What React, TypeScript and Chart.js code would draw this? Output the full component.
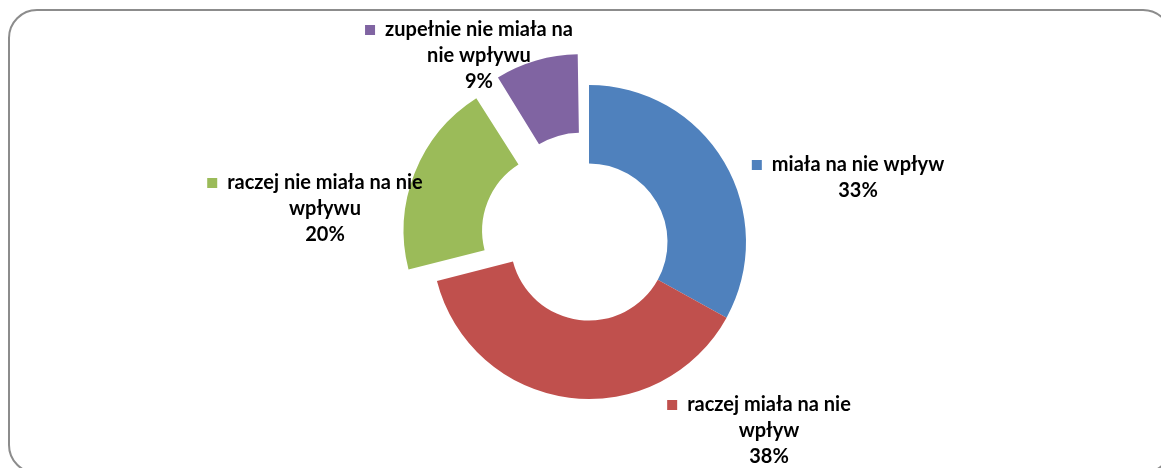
import React, { useEffect, useRef } from 'react';
import { Chart, DoughnutController, ArcElement } from 'chart.js';

Chart.register(DoughnutController, ArcElement);

const categories = [
  'miała na nie wpływ',
  'raczej miała na nie wpływ',
  'raczej nie miała na nie wpływu',
  'zupełnie nie miała na nie wpływu',
];
const values = [33, 38, 20, 9];
const labelLines = [
  ['miała na nie wpływ'],
  ['raczej miała na nie', 'wpływ'],
  ['raczej nie miała na nie', 'wpływu'],
  ['zupełnie nie miała na', 'nie wpływu'],
];
const colors = ['#4F81BD', '#C0504D', '#9BBB59', '#8064A2'];
const explode = [0, 0, 122, 128];
// label anchor offsets relative to the doughnut centre (layout only)
const labelOffsets = [
  [269, -77],
  [180, 163],
  [-264, -59],
  [-110, -212],
];

const FONT = 'bold 20px Lato, "Open Sans", sans-serif';
const LINE_H = 26;

const framePlugin = {
  id: 'frame',
  beforeDraw(chart: any) {
    const ctx = chart.ctx;
    ctx.save();
    ctx.strokeStyle = '#8c8c8c';
    ctx.lineWidth = 2;
    ctx.beginPath();
    ctx.roundRect(9, 10, 1162, 463, 28);
    ctx.stroke();
    ctx.restore();
  },
};

const radiusFixPlugin = {
  id: 'radiusFix',
  beforeDatasetsDraw(chart: any) {
    const meta = chart.getDatasetMeta(0);
    const ctrl: any = meta.controller;
    meta.data.forEach((arc: any) => {
      const off = (arc.options.offset || 0) / 4;
      const fix = 1 - Math.sin(Math.min(Math.PI, arc.circumference || 0));
      arc.outerRadius = ctrl.outerRadius - off * fix;
      arc.innerRadius = ctrl.innerRadius - off * fix;
    });
  },
};

const labelPlugin = {
  id: 'sliceLabels',
  afterDatasetsDraw(chart: any) {
    const ctx = chart.ctx;
    const meta = chart.getDatasetMeta(0);
    const data = chart.data.datasets[0].data as number[];
    const total = data.reduce((a, b) => a + b, 0);
    ctx.save();
    ctx.font = FONT;
    ctx.textBaseline = 'middle';
    ctx.textAlign = 'center';
    meta.data.forEach((arc: any, i: number) => {
      const cx = arc.x + labelOffsets[i][0];
      const cy = arc.y + labelOffsets[i][1];
      const lines = [...labelLines[i], Math.round((data[i] / total) * 100) + '%'];
      lines.forEach((ln, j) => {
        ctx.fillStyle = '#000';
        ctx.fillText(ln, cx, cy + j * LINE_H);
        if (j === 0) {
          const w = ctx.measureText(ln).width;
          ctx.fillStyle = colors[i];
          ctx.fillRect(cx - w / 2 - 20, cy - 5, 10, 10);
        }
      });
    });
    ctx.restore();
  },
};

export default function App() {
  const ref = useRef<HTMLCanvasElement>(null);
  useEffect(() => {
    if (!ref.current) return;
    const chart = new Chart(ref.current, {
      type: 'doughnut',
      data: {
        labels: categories,
        datasets: [
          {
            data: values,
            backgroundColor: colors,
            borderWidth: 0,
            offset: explode,
            hoverOffset: 0,
          },
        ],
      },
      options: {
        responsive: false,
        animation: false,
        events: [],
        radius: 157,
        cutout: '50%',
        layout: { padding: { left: 17, top: 16, right: 0, bottom: 0 } },
        plugins: { legend: { display: false }, tooltip: { enabled: false } },
      } as any,
      plugins: [framePlugin, radiusFixPlugin, labelPlugin],
    });
    return () => chart.destroy();
  }, []);
  return (
    <div style={{ position: 'fixed', left: 0, top: 0, width: 1161, height: 468, background: '#fff' }}>
      <canvas ref={ref} width={1161} height={468} style={{ display: 'block' }} />
    </div>
  );
}
